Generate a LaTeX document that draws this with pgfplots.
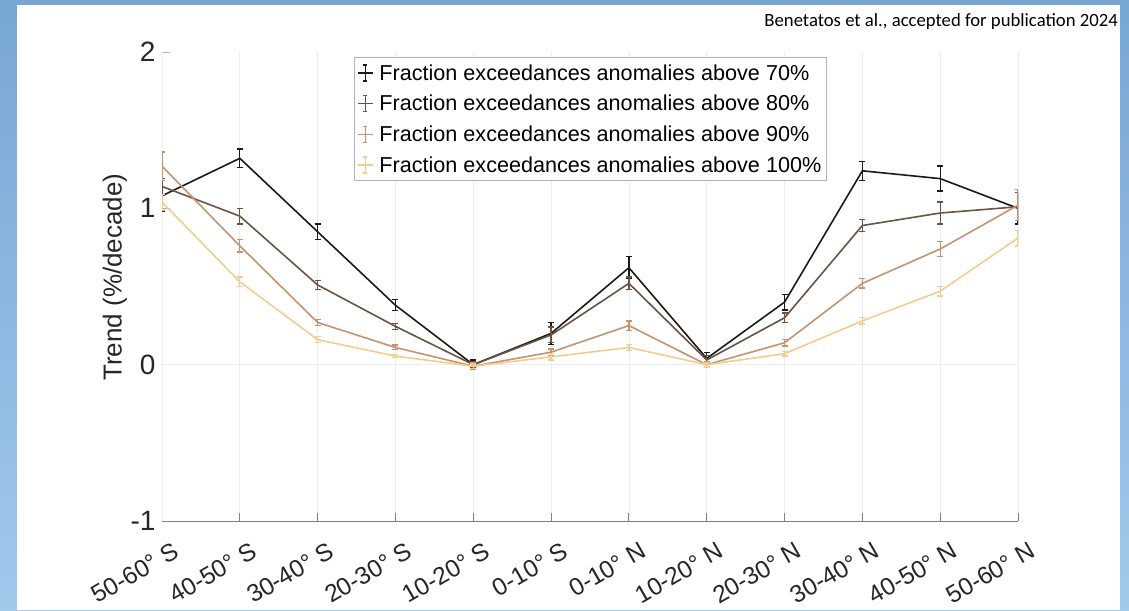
\documentclass[border=0pt]{standalone}
\usepackage{pgfplots}
\pgfplotsset{compat=1.18}
\usepackage{fontspec}
\setmainfont{Liberation Sans}
\newfontfamily\carlito{Carlito}
\definecolor{cA}{HTML}{1A1A1A}
\definecolor{cB}{HTML}{6B5344}
\definecolor{cC}{HTML}{C3946F}
\definecolor{cD}{HTML}{F4CD8E}
\definecolor{bgtop}{HTML}{78A6D3}
\definecolor{bgbot}{HTML}{A0C9EC}
\definecolor{axgray}{HTML}{7F7F7F}
\definecolor{txt}{HTML}{262626}
\begin{document}
\begin{tikzpicture}[x=1pt,y=1pt]
\useasboundingbox (0,0) rectangle (1129,610);
\shade[top color=bgtop, bottom color=bgbot] (0,0) rectangle (1129,610);
\fill[white] (17,0) rectangle (1120,605);
\node[anchor=base east, font=\carlito\fontsize{18.7}{20}\selectfont, text=black, inner sep=0pt] at (1118,583) {Benetatos et al., accepted for publication 2024};
\begin{axis}[
  at={(162pt,89pt)}, anchor=south west,
  scale only axis, width=856pt, height=469pt,
  xmin=0, xmax=11, ymin=-1, ymax=2,
  axis x line*=bottom, axis y line*=left,
  x axis line style={color=axgray, line width=1pt},
  y axis line style={color=gray!12, line width=0.8pt},
  xtick={0,...,11},
  xticklabels={50-60° S,40-50° S,30-40° S,20-30° S,10-20° S,0-10° S,0-10° N,10-20° N,20-30° N,30-40° N,40-50° N,50-60° N},
  ytick={-1,0,1,2},
  tick align=inside, major tick length=8pt,
  xtick style={color=axgray, line width=1pt},
  ytick style={color=gray!60, line width=0.8pt},
  xmajorgrids, grid style={color=gray!15, line width=0.8pt},
  extra y ticks={0}, extra y tick labels={},
  extra y tick style={grid=major, major tick length=0pt},
  /pgf/number format/assume math mode=true,
  yticklabel style={font=\fontsize{28}{30}\selectfont, text=txt, xshift=-3pt},
  xticklabel style={font=\fontsize{24.5}{26}\selectfont, text=txt, rotate=30, anchor=north east, xshift=2pt, yshift=-19pt},
  ylabel={Trend (\%/decade)},
  ylabel style={font=\fontsize{26}{28}\selectfont, text=txt, at={(axis description cs:-0.055,0.52)}, anchor=center},
  error bars/y dir=both, error bars/y explicit,
  error bars/error bar style={line width=1.3pt},
  error bars/error mark options={mark size=3pt, line width=1.3pt, rotate=90},
  legend style={at={(0.224,0.989)}, anchor=north west, draw=gray!60, line width=0.8pt,
    font=\fontsize{21.6}{23.5}\selectfont, text=black, row sep=9.5pt, column sep=4pt, inner xsep=3pt, inner ysep=5pt,
    cells={anchor=west}},
  legend image code/.code={
    \draw[#1, line width=1.3pt] (0pt,0pt) -- (15pt,0pt);
    \draw[#1, line width=1.3pt] (7.5pt,-8pt) -- (7.5pt,8pt);
    \draw[#1, line width=1.3pt] (5.5pt,-8pt) -- (9.5pt,-8pt);
    \draw[#1, line width=1.3pt] (5.5pt,8pt) -- (9.5pt,8pt);
  },
]
\addplot[cA, line width=1.6pt] coordinates {
 (0,1.08) +- (0,0.10)
 (1,1.32) +- (0,0.06)
 (2,0.85) +- (0,0.05)
 (3,0.38) +- (0,0.035)
 (4,0.00) +- (0,0.03)
 (5,0.20) +- (0,0.07)
 (6,0.62) +- (0,0.07)
 (7,0.04) +- (0,0.04)
 (8,0.40) +- (0,0.05)
 (9,1.24) +- (0,0.06)
 (10,1.19) +- (0,0.08)
 (11,1.00) +- (0,0.10)
};
\addlegendentry{Fraction exceedances anomalies above 70\%}
\addplot[cB, line width=1.6pt] coordinates {
 (0,1.14) +- (0,0.05)
 (1,0.95) +- (0,0.05)
 (2,0.51) +- (0,0.03)
 (3,0.245) +- (0,0.02)
 (4,0.00) +- (0,0.02)
 (5,0.19) +- (0,0.05)
 (6,0.52) +- (0,0.04)
 (7,0.03) +- (0,0.03)
 (8,0.30) +- (0,0.03)
 (9,0.89) +- (0,0.04)
 (10,0.97) +- (0,0.07)
 (11,1.01) +- (0,0.09)
};
\addlegendentry{Fraction exceedances anomalies above 80\%}
\addplot[cC, line width=1.6pt] coordinates {
 (0,1.27) +- (0,0.09)
 (1,0.76) +- (0,0.04)
 (2,0.27) +- (0,0.02)
 (3,0.11) +- (0,0.015)
 (4,-0.01) +- (0,0.02)
 (5,0.08) +- (0,0.02)
 (6,0.25) +- (0,0.03)
 (7,0.00) +- (0,0.02)
 (8,0.14) +- (0,0.02)
 (9,0.52) +- (0,0.03)
 (10,0.74) +- (0,0.05)
 (11,1.02) +- (0,0.10)
};
\addlegendentry{Fraction exceedances anomalies above 90\%}
\addplot[cD, line width=1.6pt] coordinates {
 (0,1.04) +- (0,0.05)
 (1,0.53) +- (0,0.03)
 (2,0.16) +- (0,0.02)
 (3,0.055) +- (0,0.01)
 (4,-0.01) +- (0,0.015)
 (5,0.05) +- (0,0.02)
 (6,0.11) +- (0,0.02)
 (7,0.00) +- (0,0.015)
 (8,0.07) +- (0,0.015)
 (9,0.28) +- (0,0.02)
 (10,0.47) +- (0,0.03)
 (11,0.81) +- (0,0.05)
};
\addlegendentry{Fraction exceedances anomalies above 100\%}
\end{axis}
\end{tikzpicture}
\end{document}
